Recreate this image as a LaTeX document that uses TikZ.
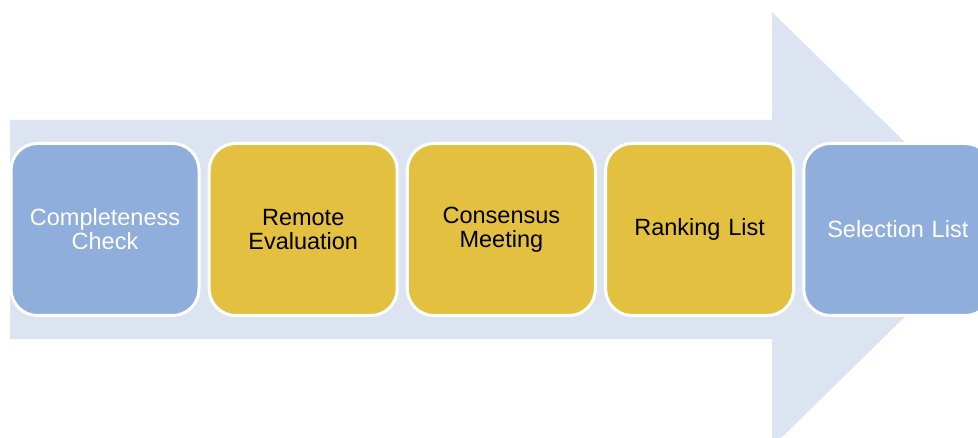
\documentclass[tikz,border=0pt]{standalone}
\usepackage{fontspec}
\setmainfont{Liberation Sans}
\definecolor{arrowfill}{HTML}{DCE4F2}
\definecolor{bluebox}{HTML}{8FAEDC}
\definecolor{goldbox}{HTML}{E3C040}
\tikzset{
  stage/.style={draw=white, line width=3pt, rounded corners=26.5pt,
    minimum width=188pt, minimum height=172pt, inner sep=4pt,
    text width=180pt, align=center,
    font=\fontsize{23.5}{24}\selectfont},
  bluestage/.style={stage, fill=bluebox, text=white},
  goldstage/.style={stage, fill=goldbox, text=black}
}
\begin{document}
\begin{tikzpicture}[x=1pt, y=-1pt]
\useasboundingbox (0,0) rectangle (978,438);
\clip (0,0) rectangle (978,438);
\fill[arrowfill] (10,120) -- (772,120) -- (772,12) -- (994,229.5) -- (772,447) -- (772,339) -- (10,339) -- cycle;
\node[bluestage] (s1) at (105,229.5) {Completeness\\Check};
\node[goldstage] (s2) at (303.2,229.5) {Remote\\Evaluation};
\node[goldstage] (s3) at (501.4,229.5) {Consensus\\Meeting};
\node[goldstage] (s4) at (699.6,229.5) {Ranking List};
\node[bluestage] (s5) at (897.8,229.5) {Selection List};
\end{tikzpicture}
\end{document}
